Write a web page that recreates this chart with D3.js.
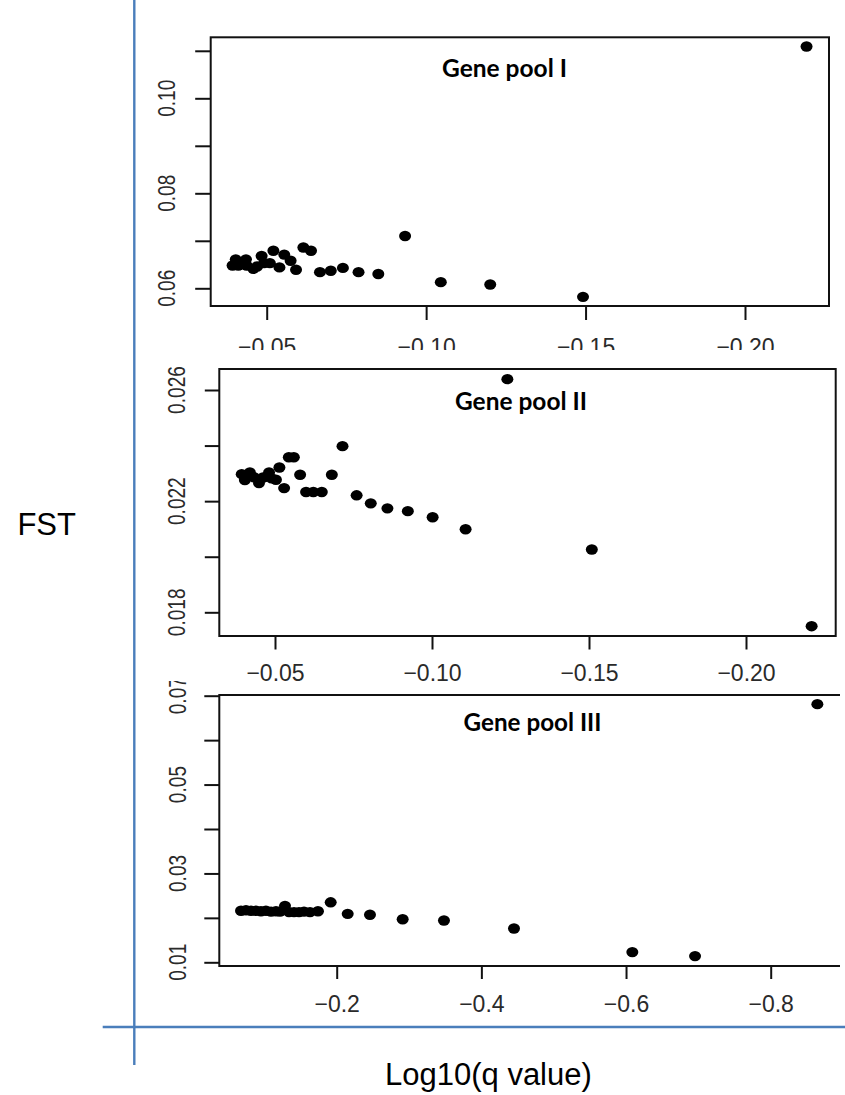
<!DOCTYPE html>
<html>
<head>
<meta charset="utf-8">
<script src="https://cdn.jsdelivr.net/npm/d3@7"></script>
<style>
  html, body { margin: 0; padding: 0; background: #fff; }
  svg { display: block; }
</style>
</head>
<body>
<svg id="chart" width="845" height="1095"></svg>
<script>
// ---------------- DATA ----------------
// Gene pool I : Log10(q value) vs FST
const gp1Q = [-0.0393,-0.0403,-0.0411,-0.0435,-0.0437,-0.0458,-0.0470,-0.0484,-0.0492,-0.0510,
              -0.0521,-0.0540,-0.0555,-0.0575,-0.0592,-0.0615,-0.0639,-0.0667,-0.0701,-0.0739,
              -0.0788,-0.0850,-0.0934,-0.1046,-0.1201,-0.1492,-0.2193];
const gp1F = [0.0648,0.0661,0.0648,0.0661,0.0648,0.0641,0.0646,0.0668,0.0653,0.0653,
              0.0679,0.0644,0.0671,0.0658,0.0639,0.0686,0.0679,0.0634,0.0637,0.0643,
              0.0634,0.0630,0.0710,0.0613,0.0608,0.0582,0.1109];

// Gene pool II
const gp2Q = [-0.0394,-0.0404,-0.0420,-0.0433,-0.0449,-0.0462,-0.0481,-0.0489,-0.0503,-0.0514,
              -0.0529,-0.0544,-0.0560,-0.0580,-0.0599,-0.0622,-0.0649,-0.0681,-0.0715,-0.0760,
              -0.0805,-0.0858,-0.0923,-0.1002,-0.1107,-0.1240,-0.1509,-0.2209];
const gp2F = [0.02297,0.02276,0.02303,0.02286,0.02265,0.02285,0.02303,0.02282,0.02277,0.02321,
              0.02247,0.02358,0.02358,0.02295,0.02233,0.02233,0.02233,0.02295,0.02398,0.02221,
              0.02192,0.02174,0.02164,0.02142,0.02099,0.02639,0.02026,0.01750];

// Gene pool III
const gp3Q = [-0.0677,-0.0746,-0.0815,-0.0884,-0.0953,-0.1022,-0.1092,-0.1161,-0.1216,-0.1285,
              -0.1341,-0.1410,-0.1479,-0.1548,-0.1631,-0.1741,
              -0.1917,-0.2152,-0.2460,-0.2912,-0.3483,-0.4451,-0.6087,-0.6954,-0.8645];
const gp3F = [0.0216,0.0217,0.0216,0.0216,0.0215,0.0216,0.0214,0.0215,0.0214,0.0227,
              0.0213,0.0213,0.0213,0.0214,0.0213,0.0215,
              0.0235,0.0209,0.0207,0.0197,0.0194,0.0176,0.0123,0.0114,0.0681];

// ticks and tick labels ("" = tick without label, as R drops overlapping labels)
const gp1XTicks = [-0.05,-0.10,-0.15,-0.20];
const gp1XLabels = ["\u22120.05","\u22120.10","\u22120.15","\u22120.20"];
const gp1YTicks = [0.06,0.07,0.08,0.09,0.10,0.11];
const gp1YLabels = ["0.06","","0.08","","0.10",""];

const gp2XTicks = [-0.05,-0.10,-0.15,-0.20];
const gp2XLabels = ["\u22120.05","\u22120.10","\u22120.15","\u22120.20"];
const gp2YTicks = [0.018,0.020,0.022,0.024,0.026];
const gp2YLabels = ["0.018","","0.022","","0.026"];

const gp3XTicks = [-0.2,-0.4,-0.6,-0.8];
const gp3XLabels = ["\u22120.2","\u22120.4","\u22120.6","\u22120.8"];
const gp3YTicks = [0.01,0.02,0.03,0.04,0.05,0.06,0.07];
const gp3YLabels = ["0.01","","0.03","","0.05","","0.07"];

const titles = ["Gene pool I","Gene pool II","Gene pool III"];
const yAxisTitle = "FST";
const xAxisTitle = "Log10(q value)";

// ---------------- LAYOUT ----------------
const panels = [
  { q: gp1Q, f: gp1F, xt: gp1XTicks, xl: gp1XLabels, yt: gp1YTicks, yl: gp1YLabels, title: titles[0],
    xDom: [-0.05,-0.20], xRange: [266.7,745.0], yDom: [0.06,0.10], yRange: [288.3,98.3],
    box: {x0:210.7, x1:829, y0:37.3, y1:306}, clip: {x:0,y:0,w:845,h:350},
    yTick: 15.5, xTick: 14, yLabX: 175, xLabOff: 48.5, titleX: 442, titleY: 76.5, titleW: 125 },
  { q: gp2Q, f: gp2F, xt: gp2XTicks, xl: gp2XLabels, yt: gp2YTicks, yl: gp2YLabels, title: titles[1],
    xDom: [-0.05,-0.20], xRange: [275,746], yDom: [0.018,0.026], yRange: [612.3,390],
    box: {x0:219.3, x1:835.7, y0:369, y1:636}, clip: {x:0,y:350,w:845,h:331},
    yTick: 14.5, xTick: 13.5, yLabX: 185, xLabOff: 44.5, titleX: 455, titleY: 410, titleW: 132 },
  { q: gp3Q, f: gp3F, xt: gp3XTicks, xl: gp3XLabels, yt: gp3YTicks, yl: gp3YLabels, title: titles[2],
    xDom: [-0.2,-0.8], xRange: [336.7,770.7], yDom: [0.01,0.07], yRange: [962.3,695.7],
    box: {x0:219.3, x1:870, y0:695, y1:966}, clip: {x:0,y:681,w:840,h:414},
    yTick: 15, xTick: 13, yLabX: 186, xLabOff: 46, titleX: 463.5, titleY: 730.5, titleW: 138 }
];

const svg = d3.select("#chart");
const defs = svg.append("defs");
const ink = "#111";
const labInk = "#2a2a2a";
const sans = "'Liberation Sans', Arial, Helvetica, sans-serif";

panels.forEach((p, i) => {
  defs.append("clipPath").attr("id", "clip" + i)
    .append("rect").attr("x", p.clip.x).attr("y", p.clip.y).attr("width", p.clip.w).attr("height", p.clip.h);

  const g = svg.append("g").attr("clip-path", `url(#clip${i})`);
  const x = d3.scaleLinear().domain(p.xDom).range(p.xRange);
  const y = d3.scaleLinear().domain(p.yDom).range(p.yRange);

  // box
  g.append("rect")
    .attr("x", p.box.x0).attr("y", p.box.y0)
    .attr("width", p.box.x1 - p.box.x0).attr("height", p.box.y1 - p.box.y0)
    .attr("fill", "none").attr("stroke", ink).attr("stroke-width", 2);

  // y axis ticks
  const ya = g.append("g").attr("transform", `translate(${p.box.x0},0)`)
    .call(d3.axisLeft(y).tickValues(p.yt).tickSize(p.yTick).tickFormat(""));
  ya.select(".domain").remove();
  ya.selectAll(".tick line").attr("stroke", ink).attr("stroke-width", 2);

  // y tick labels (rotated, R style)
  p.yt.forEach((v, j) => {
    const lab = p.yl[j];
    if (!lab) return;
    g.append("g").attr("transform", `translate(${p.yLabX},${y(v)}) rotate(-90)`)
      .append("text").attr("transform", "scale(0.83,1)")
      .attr("text-anchor", "middle")
      .attr("font-family", sans)
      .attr("font-size", 23).attr("fill", labInk)
      .text(lab);
  });

  // x axis
  const xa = g.append("g").attr("transform", `translate(0,${p.box.y1})`)
    .call(d3.axisBottom(x).tickValues(p.xt).tickSize(p.xTick).tickFormat((d, j) => p.xl[j]));
  xa.select(".domain").remove();
  xa.selectAll(".tick line").attr("stroke", ink).attr("stroke-width", 2);
  xa.selectAll(".tick text")
    .attr("y", p.xLabOff).attr("dy", null)
    .attr("font-family", sans)
    .attr("font-size", 23).attr("fill", labInk);

  // title
  g.append("text")
    .attr("x", p.titleX).attr("y", p.titleY)
    .attr("font-family", "Lato, 'Open Sans', sans-serif")
    .attr("font-weight", "bold").attr("font-size", 25.5)
    .attr("textLength", p.titleW).attr("lengthAdjust", "spacingAndGlyphs")
    .attr("fill", "#000")
    .text(p.title);

  // points
  g.append("g").selectAll("ellipse")
    .data(p.q.map((q, j) => ({ q, f: p.f[j] })))
    .join("ellipse")
    .attr("cx", d => x(d.q)).attr("cy", d => y(d.f))
    .attr("rx", 6).attr("ry", 5.2)
    .attr("fill", "#000");
});

// blue framing lines
const blue = "#4A7EBB";
svg.append("line").attr("x1", 134.3).attr("x2", 134.3).attr("y1", 0).attr("y2", 1065)
  .attr("stroke", blue).attr("stroke-width", 2.4);
svg.append("line").attr("x1", 102.7).attr("x2", 845).attr("y1", 1027).attr("y2", 1027)
  .attr("stroke", blue).attr("stroke-width", 2.4);

// axis titles
svg.append("text").attr("x", 76).attr("y", 535).attr("text-anchor", "end")
  .attr("font-family", sans).attr("font-size", 31).attr("fill", "#000")
  .text(yAxisTitle);
svg.append("text").attr("x", 385).attr("y", 1085)
  .attr("font-family", sans).attr("font-size", 31).attr("fill", "#000")
  .text(xAxisTitle);
</script>
</body>
</html>
